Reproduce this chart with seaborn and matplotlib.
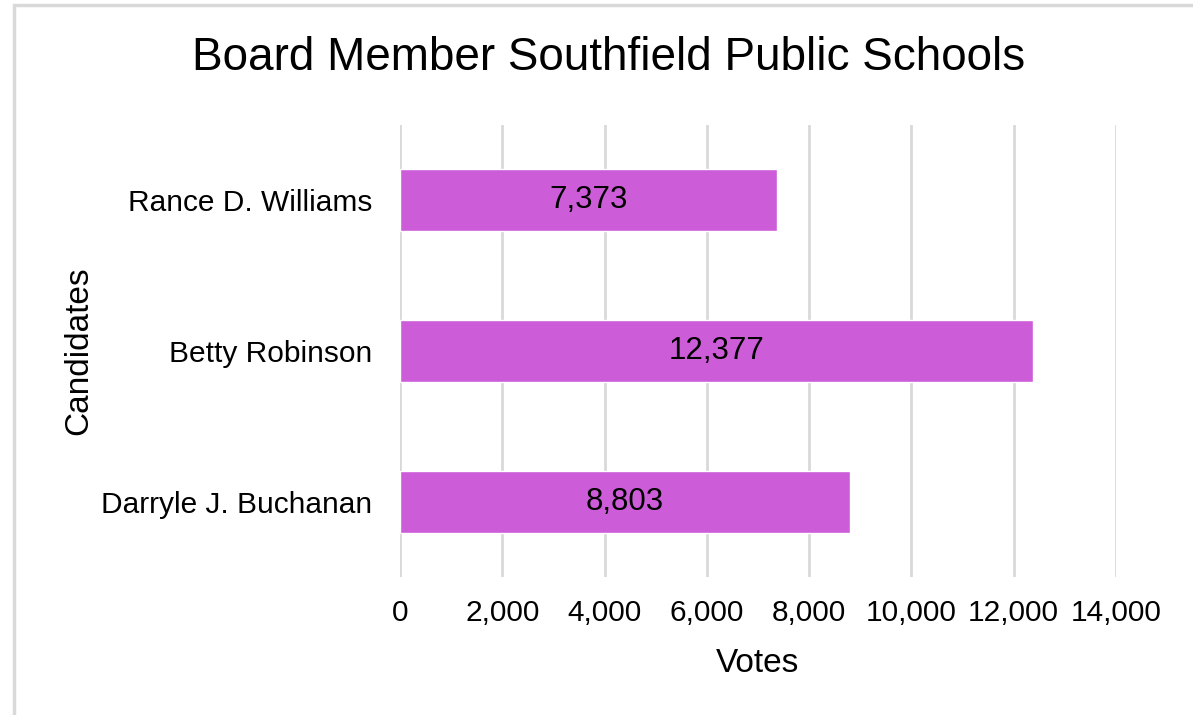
import matplotlib
matplotlib.use("Agg")
import matplotlib.pyplot as plt
import seaborn as sns
import pandas as pd
from matplotlib.ticker import FuncFormatter
from matplotlib.patches import Rectangle

# data
candidates = ["Rance D. Williams", "Betty Robinson", "Darryle J. Buchanan"]
votes = [7373, 12377, 8803]
x_ticks = [0, 2000, 4000, 6000, 8000, 10000, 12000, 14000]

df = pd.DataFrame({"Candidates": candidates, "Votes": votes})

sns.set_theme(style="white")
plt.rcParams["font.family"] = ["Liberation Sans", "DejaVu Sans"]

fig = plt.figure(figsize=(11.93, 7.15), dpi=100)
ax = fig.add_axes([400 / 1193, 1 - 577 / 715, 716 / 1193, 452 / 715])

sns.barplot(data=df, x="Votes", y="Candidates", color="#CD5CD9",
            saturation=1, width=0.41, ax=ax, zorder=3)

for i, v in enumerate(votes):
    ax.text(v / 2, i, f"{v:,}", ha="center", va="center", fontsize=22.5,
            color="black", zorder=4)

ax.set_xlim(0, 14000)
ax.set_xticks(x_ticks)
ax.xaxis.set_major_formatter(FuncFormatter(lambda x, p: f"{int(x):,}"))
ax.grid(axis="x", color="#D9D9D9", linewidth=2, zorder=0)
ax.grid(axis="y", visible=False)
for s in ax.spines.values():
    s.set_visible(False)

ax.tick_params(axis="x", labelsize=21.5, pad=16, length=0, colors="black")
ax.tick_params(axis="y", labelsize=21.5, pad=20, length=0, colors="black")
ax.set_xlabel("Votes", fontsize=24, labelpad=15, color="black")
ax.set_ylabel("Candidates", fontsize=24, labelpad=5, color="black")
fig.suptitle("Board Member Southfield Public Schools", fontsize=33,
             x=609 / 1193, y=1 - 58 / 715, va="center", color="black")

# light frame around the chart (cropped at right/bottom)
fig.patches.append(Rectangle((14 / 1193, -0.1), 1.2, 1 - 5 / 715 + 0.1,
                             transform=fig.transFigure, fill=False,
                             edgecolor="#D9D9D9", linewidth=2.5))

fig.savefig("out.png", dpi=100)
